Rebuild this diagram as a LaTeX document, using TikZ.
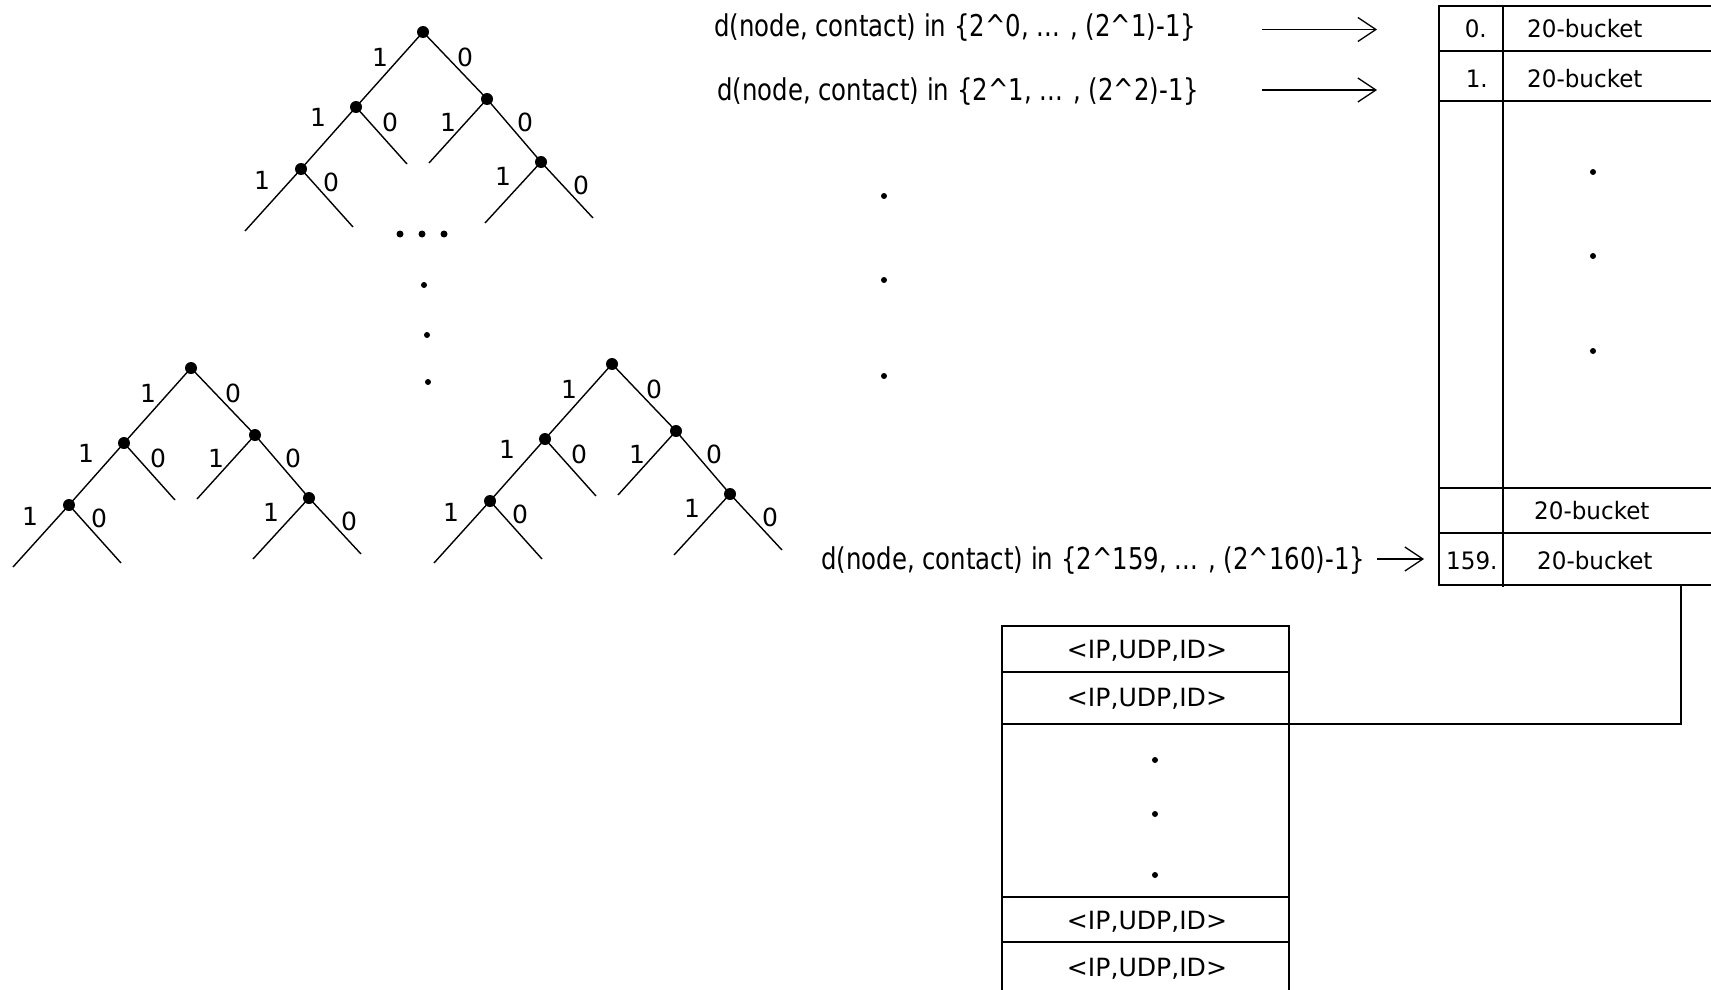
\documentclass[tikz,border=0pt]{standalone}
\usepackage{fontspec}
\setmainfont{DejaVu Sans}
\newfontfamily\rangefont[FakeStretch=0.813]{DejaVu Sans}
\newfontfamily\cellfont[FakeStretch=0.96]{DejaVu Sans}
\usetikzlibrary{arrows.meta}

\newcommand{\caret}{\textasciicircum}

\tikzset{
  branch/.style={line width=1.4pt},
  tableline/.style={line width=1.8pt},
  vertexdot/.style={circle,fill=black,inner sep=0pt,minimum size=12pt},
  bitlabel/.style={font=\fontsize{25}{25}\selectfont,inner sep=0pt},
  smalldot/.style={circle,fill=black,inner sep=0pt,minimum size=6pt},
  bigdot/.style={circle,fill=black,inner sep=0pt,minimum size=7pt},
  rangetext/.style={font=\rangefont\fontsize{30}{32}\selectfont,inner sep=0pt,anchor=base west},
  celltext/.style={font=\cellfont\fontsize{24}{24}\selectfont,inner sep=0pt},
  contacttext/.style={font=\fontsize{25.1}{25}\selectfont,inner sep=0pt,anchor=base},
  longarrow/.style={line width=1.3pt,-{Straight Barb[length=18pt,width=24pt,line width=1.3pt]}},
  % three-level binary trie, 1 = left branch, 0 = right branch
  bintree/.pic={
    \node[vertexdot] (-n)  at (0,0) {};
    \node[vertexdot] (-a)  at (-67,75) {};
    \node[vertexdot] (-b)  at (64,67) {};
    \node[vertexdot] (-aa) at (-122,137) {};
    \node[vertexdot] (-bb) at (118,130) {};
    \coordinate (-a0)  at (-16,132);
    \coordinate (-b1)  at (6,131);
    \coordinate (-aa1) at (-178,199);
    \coordinate (-aa0) at (-70,195);
    \coordinate (-bb1) at (62,191);
    \coordinate (-bb0) at (170,186);
    \draw[branch] (-n.center) -- (-a.center) -- (-aa.center) -- (-aa1);
    \draw[branch] (-n.center) -- (-b.center) -- (-bb.center) -- (-bb0);
    \draw[branch] (-a.center) -- (-a0);
    \draw[branch] (-b.center) -- (-b1);
    \draw[branch] (-aa.center) -- (-aa0);
    \draw[branch] (-bb.center) -- (-bb1);
    \node[bitlabel] (-ln1)  at (-43,25) {1};
    \node[bitlabel] (-ln0)  at (42,25) {0};
    \node[bitlabel] (-la1)  at (-105,85) {1};
    \node[bitlabel] (-la0)  at (-33,90) {0};
    \node[bitlabel] (-lb1)  at (25,90) {1};
    \node[bitlabel] (-lb0)  at (102,90) {0};
    \node[bitlabel] (-laa1) at (-161,148) {1};
    \node[bitlabel] (-laa0) at (-92,150) {0};
    \node[bitlabel] (-lbb1) at (80,144) {1};
    \node[bitlabel] (-lbb0) at (158,153) {0};
  }
}

\begin{document}
\begin{tikzpicture}[x=1pt,y=-1pt]
\useasboundingbox (0,0) rectangle (1711,990);
\fill[white] (0,0) rectangle (1711,990);

% tries
\pic (top) at (423,32) {bintree};
\pic (lowl) at (191,368) {bintree};
\pic (lowr) at (612,364) {bintree};

\node[bigdot] (h1) at (400,234) {};
\node[bigdot] (h2) at (422,234) {};
\node[bigdot] (h3) at (444,234) {};
\node[smalldot] (v1) at (424,285) {};
\node[smalldot] (v2) at (427,335) {};
\node[smalldot] (v3) at (428,382) {};

% distance ranges
\node[rangetext] (r0) at (714,37) {d(node, contact) in \{2\caret0, ... , (2\caret1)-1\}};
\node[rangetext] (r1) at (717,100) {d(node, contact) in \{2\caret1, ... , (2\caret2)-1\}};
\node[rangetext] (r159) at (821,569) {d(node, contact) in \{2\caret159, ... , (2\caret160)-1\}};

\node[smalldot] (m1) at (884,196) {};
\node[smalldot] (m2) at (884,280) {};
\node[smalldot] (m3) at (884,376) {};

% routing table
\draw[tableline] (1712,6) -- (1439,6) -- (1439,585) -- (1712,585);
\draw[tableline] (1439,51) -- (1712,51);
\draw[tableline] (1439,101) -- (1712,101);
\draw[tableline] (1439,488) -- (1712,488);
\draw[tableline] (1439,533) -- (1712,533);
\draw[tableline] (1503,6) -- (1503,587);

\node[celltext,anchor=base east] (i0) at (1487,38) {0.};
\node[celltext,anchor=base west] (k0) at (1527,38) {20-bucket};
\node[celltext,anchor=base east] (i1) at (1488,88) {1.};
\node[celltext,anchor=base west] (k1) at (1527,88) {20-bucket};
\node[celltext,anchor=base west] (k158) at (1534,519) {20-bucket};
\node[celltext,anchor=base west] (i159) at (1446,569) {159.};
\node[celltext,anchor=base west] (k159) at (1537,569) {20-bucket};

\node[smalldot] (t1) at (1593,172) {};
\node[smalldot] (t2) at (1593,256) {};
\node[smalldot] (t3) at (1593,351) {};

% range arrows
\coordinate (a0s) at (1262,29.5);
\coordinate (a0e) at (1377,29.5);
\coordinate (a1s) at (1262,90);
\coordinate (a1e) at (1377,90);
\coordinate (a159s) at (1377,559);
\coordinate (a159e) at (1424,559);
\draw[longarrow] (a0s) -- (a0e);
\draw[longarrow] (a1s) -- (a1e);
\draw[longarrow] (a159s) -- (a159e);

% k-bucket contents
\draw[tableline] (1002,991) -- (1002,626) -- (1289,626) -- (1289,991);
\draw[tableline] (1002,672) -- (1289,672);
\draw[tableline] (1002,724) -- (1289,724);
\draw[tableline] (1002,897) -- (1289,897);
\draw[tableline] (1002,942) -- (1289,942);

\node[contacttext] (c1) at (1147,658) {<IP,UDP,ID>};
\node[contacttext] (c2) at (1147,706) {<IP,UDP,ID>};
\node[contacttext] (c19) at (1147,929) {<IP,UDP,ID>};
\node[contacttext] (c20) at (1147,976) {<IP,UDP,ID>};

\node[smalldot] (b1) at (1155,760) {};
\node[smalldot] (b2) at (1155,814) {};
\node[smalldot] (b3) at (1155,875) {};

% link from the last bucket to its contact list
\coordinate (bucketout) at (1681,585);
\coordinate (listin) at (1289,724);
\draw[tableline] (bucketout) |- (listin);
\end{tikzpicture}
\end{document}
